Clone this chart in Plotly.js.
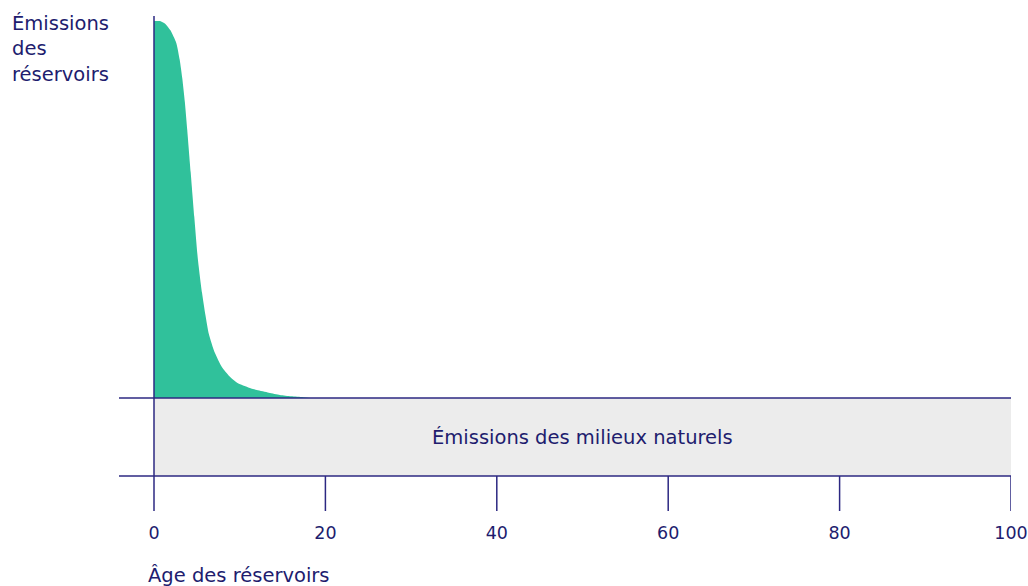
<!DOCTYPE html>
<html>
<head>
<meta charset="utf-8">
<script src="https://cdn.plot.ly/plotly-3.0.1.min.js"></script>
<style>html,body{margin:0;padding:0;background:#fff;}#chart{width:1028px;height:586px;}</style>
</head>
<body>
<div id="chart"></div>
<script>
// Reservoir emissions curve (relative units, peak = 100)
var reservoirAge = [0, 0.7, 1.3, 1.9, 2.6, 3.0, 3.3, 3.6, 3.88, 4.28, 4.7, 5.12, 5.6, 6.0, 6.4, 7.1, 7.9, 8.8, 9.8, 11.0, 12.0, 13.4, 14.7, 16.0, 17.4, 18.3];
var reservoirEmissions = [100, 100, 99.3, 97.6, 94.2, 89.7, 84.8, 78.5, 71.1, 59.9, 48.1, 36.8, 28.0, 22.0, 17.0, 12.0, 8.3, 5.8, 3.9, 2.8, 2.1, 1.4, 0.8, 0.45, 0.2, 0];
// Natural-environment emissions band (constant level below zero)
var naturalLevel = -20.7;
var xTicks = [0, 20, 40, 60, 80, 100];
var xTickLabels = ['0', '20', '40', '60', '80', '100'];
var yTitle = 'Émissions<br>des<br>réservoirs';
var xTitle = 'Âge des réservoirs';
var bandLabel = 'Émissions des milieux naturels';

var navy = '#211c6e';
var lineCol = '#2c2882';
var fontFam = '"DejaVu Sans", "Open Sans", sans-serif';

var yBottom = -29.97, yTop = 101.33;
var xLeft = -4.084, xRight = 100;

var shapes = [
  {type:'rect', xref:'x', yref:'y', x0:0, x1:100, y0:naturalLevel, y1:0, fillcolor:'#ececec', line:{width:0}, layer:'below'},
  {type:'line', xref:'x', yref:'y', x0:xLeft, x1:100, y0:0, y1:0, line:{color:lineCol, width:1.5}, layer:'above'},
  {type:'line', xref:'x', yref:'y', x0:xLeft, x1:100, y0:naturalLevel, y1:naturalLevel, line:{color:lineCol, width:1.5}, layer:'above'},
  {type:'line', xref:'x', yref:'y', x0:0, x1:0, y0:yBottom, y1:yTop, line:{color:lineCol, width:1.5}, layer:'above'}
];
xTicks.forEach(function(t){
  if (t === 0) return;
  shapes.push({type:'line', xref:'x', yref:'y', x0:t, x1:t, y0:yBottom, y1:naturalLevel, line:{color:lineCol, width:1.5}, layer:'above'});
});

var trace = {
  x: reservoirAge, y: reservoirEmissions, type:'scatter', mode:'lines',
  fill:'tozeroy', fillcolor:'#30c19b', line:{color:'#30c19b', width:0, shape:'spline', smoothing:0.6},
  hoverinfo:'skip', showlegend:false
};

var layout = {
  width:1028, height:586,
  margin:{l:119, r:17, t:16, b:75},
  paper_bgcolor:'#ffffff', plot_bgcolor:'rgba(0,0,0,0)',
  font:{family:fontFam, color:navy, size:18},
  xaxis:{range:[xLeft, xRight], showgrid:false, zeroline:false, showline:false,
         tickmode:'array', tickvals:xTicks, ticktext:xTickLabels, ticks:'', ticklabelstandoff:9,
         ticklabeloverflow:'allow',
         tickfont:{family:fontFam, size:17.5, color:navy}, fixedrange:true},
  yaxis:{range:[yBottom, yTop], showgrid:false, zeroline:false, showline:false, showticklabels:false, ticks:'', fixedrange:true},
  shapes: shapes,
  annotations:[
    {xref:'paper', yref:'paper', x:-0.1222, y:1.013, xanchor:'left', yanchor:'top', align:'left', text:yTitle, showarrow:false,
     font:{family:fontFam, size:19.5, color:navy}},
    {xref:'x', yref:'paper', x:-0.95, y:-0.130, xanchor:'left', yanchor:'middle', text:xTitle, showarrow:false,
     font:{family:fontFam, size:19.5, color:navy}},
    {xref:'x', yref:'y', x:50, y:naturalLevel/2, xanchor:'center', yanchor:'middle', text:bandLabel, showarrow:false,
     font:{family:fontFam, size:19.5, color:navy}}
  ]
};

Plotly.newPlot('chart', [trace], layout, {displayModeBar:false, staticPlot:true});
</script>
</body>
</html>
